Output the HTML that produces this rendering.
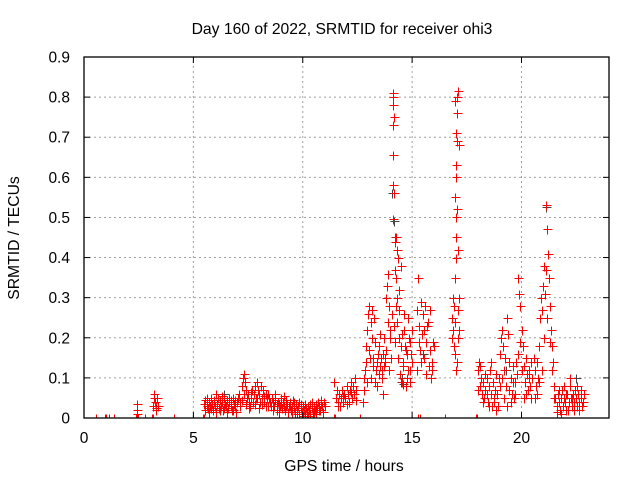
<!DOCTYPE html>
<html><head><meta charset="utf-8"><style>
html,body{margin:0;padding:0;background:#fff;}
svg{display:block;font-family:"Liberation Sans",sans-serif;}
</style></head><body>
<svg id="chart" width="640" height="480" viewBox="0 0 640 480" xmlns="http://www.w3.org/2000/svg">
<defs><clipPath id="clip"><rect x="84" y="57" width="525" height="361"/></clipPath></defs>
<rect width="640" height="480" fill="#fff"/>
<text x="342" y="34" font-size="15.7" text-anchor="middle">Day 160 of 2022, SRMTID for receiver ohi3</text>
<text x="344" y="471" font-size="15.7" text-anchor="middle">GPS time / hours</text>
<text x="19" y="238" font-size="15.7" text-anchor="middle" transform="rotate(-90 19 238)">SRMTID / TECUs</text>
<g id="grid"></g>
<g id="marks" clip-path="url(#clip)" shape-rendering="crispEdges"></g>
<g id="axes"></g>
</svg>
<script>
const xTicks=[0,5,10,15,20];
const yTicks=[0,0.1,0.2,0.3,0.4,0.5,0.6,0.7,0.8,0.9];
const yTickLabels=["0","0.1","0.2","0.3","0.4","0.5","0.6","0.7","0.8","0.9"];
const zeroTimes=[0.53,0.95,1.0,1.14,1.37,2.38,2.45,2.8,3.1,3.15,4.1,5.0,5.42,5.5,11.42,11.48,12.6,15.25,15.35,16.5,17.9,17.98];
const blackPoints=[[14.1,0.56],[14.15,0.49],[14.2,0.45],[14.5,0.09],[14.55,0.1],[14.6,0.085],[21.1,0.525],[6.4,0.06],[22.5,0.1],[15.5,0.16],[19.3,0.12]];
const redPoints=[
[2.4,.01],[2.4,.02],[2.42,.035],[3.15,.03],[3.2,.06],[3.22,.05],[3.25,.04],[3.3,.03],[3.3,.02],[3.35,.05],[3.38,.03],[3.28,.025],
[5.5,.035],[5.55,.045],[5.6,.03],[5.65,.025],[5.7,.04],[5.75,.03],[5.8,.05],[5.85,.035],[5.9,.02],[5.95,.04],[6.0,.03],[6.05,.06],[6.1,.035],[6.15,.025],[6.2,.045],[6.25,.03],[6.3,.04],[6.35,.02],[6.4,.05],[6.45,.035],[6.5,.03],[6.55,.045],[6.6,.025],[6.65,.04],[6.7,.03],[6.75,.02],[6.8,.05],[6.85,.035],[6.9,.03],[6.95,.015],[7.0,.04],
[5.52,.02],[5.62,.05],[5.72,.015],[5.82,.025],[5.92,.045],[6.02,.015],[6.12,.05],[6.22,.02],[6.32,.055],[6.42,.025],[6.52,.015],[6.62,.05],[6.72,.045],[6.82,.02],[6.92,.045],
[7.05,.05],[7.1,.06],[7.15,.04],[7.2,.08],[7.25,.1],[7.3,.11],[7.35,.09],[7.4,.07],[7.45,.05],[7.5,.06],[7.55,.04],[7.6,.03],[7.65,.05],[7.7,.07],[7.75,.06],[7.8,.08],[7.85,.05],[7.9,.09],[7.95,.07],[8.0,.06],[8.05,.04],[8.1,.08],[8.15,.05],[8.2,.07],[8.25,.04],[8.3,.06],[8.35,.05],[8.4,.03],[8.45,.05],[8.5,.04],
[7.12,.03],[7.22,.045],[7.32,.06],[7.42,.035],[7.52,.025],[7.62,.065],[7.72,.04],[7.82,.035],[7.92,.05],[8.02,.025],[8.12,.035],[8.22,.055],[8.32,.03],[8.42,.06],
[8.55,.03],[8.6,.05],[8.65,.04],[8.7,.03],[8.75,.045],[8.8,.02],[8.85,.04],[8.9,.035],[8.95,.03],[9.0,.05],[9.05,.025],[9.1,.04],[9.15,.03],[9.2,.02],[9.25,.045],[9.3,.035],[9.35,.03],[9.4,.04],[9.45,.02],[9.5,.03],[9.55,.045],[9.6,.025],[9.65,.015],[9.7,.035],[9.75,.02],[9.8,.03],[9.85,.01],[9.9,.025],[9.95,.015],[10.0,.03],[10.05,.02],[10.1,.01],[10.15,.025],[10.2,.015],[10.25,.03],[10.3,.02],[10.35,.035],[10.4,.025],[10.45,.015],[10.5,.03],[10.55,.02],[10.6,.035],[10.65,.025],[10.7,.04],[10.75,.03],[10.8,.02],[10.85,.035],[10.9,.03],[10.95,.04],[11.0,.03],
[8.62,.02],[8.72,.06],[8.82,.035],[8.92,.015],[9.02,.035],[9.12,.055],[9.22,.03],[9.32,.015],[9.42,.03],[9.52,.015],[9.62,.04],[9.72,.01],[9.82,.04],[9.92,.035],[10.02,.005],[10.12,.035],[10.22,.005],[10.32,.01],[10.42,.04],[10.52,.01],[10.62,.015],[10.72,.02],[10.82,.045],[10.92,.015],
[11.45,.09],[11.5,.05],[11.55,.07],[11.6,.04],[11.65,.06],[11.7,.03],[11.75,.05],[11.8,.07],[11.85,.04],[11.9,.06],[11.95,.05],[12.0,.08],[12.05,.06],[12.1,.04],[12.15,.07],[12.2,.09],[12.25,.05],[12.3,.08],[12.35,.06],[12.4,.1],[12.45,.07],[11.62,.03],[11.82,.055],[12.02,.035],[12.22,.065],[12.42,.045],
[12.75,.04],[12.8,.07],[12.85,.12],[12.9,.18],[12.95,.22],[13.0,.26],[13.05,.28],[13.1,.24],[13.15,.2],[13.2,.15],[13.25,.25],[13.3,.19],[13.35,.12],[13.4,.08],[13.45,.16],[13.5,.18],[13.55,.13],[13.6,.1],[13.65,.16],[13.7,.2],[13.75,.14],[13.8,.3],[13.85,.33],[13.9,.36],[13.95,.28],[14.0,.22],
[12.82,.1],[12.88,.14],[12.92,.09],[13.02,.17],[13.08,.15],[13.12,.1],[13.18,.27],[13.22,.13],[13.28,.09],[13.38,.14],[13.48,.11],[13.52,.21],[13.58,.15],[13.62,.12],[13.68,.06],[13.72,.13],[13.78,.15],[13.82,.17],[13.88,.24],[13.92,.12],[13.98,.2],[14.02,.15],
[14.12,.81],[14.13,.8],[14.14,.78],[14.15,.75],[14.13,.73],[14.14,.655],[14.12,.58],[14.15,.56],[14.14,.495],[14.2,.44],[14.25,.45],[14.3,.42],[14.35,.4],[14.2,.37],[14.25,.35],[14.3,.3],[14.1,.26],[14.15,.23],[14.2,.19],[14.25,.28],[14.3,.24],[14.35,.15],[14.4,.2],[14.45,.11],[14.5,.18],[14.55,.09],[14.6,.14],[14.65,.22],[14.7,.17],[14.75,.1],[14.8,.25],[14.85,.2],[14.9,.12],[14.95,.16],[15.0,.22],
[14.42,.32],[14.38,.27],[14.48,.38],[14.52,.21],[14.58,.13],[14.62,.26],[14.68,.18],[14.72,.08],[14.78,.16],[14.82,.12],[14.88,.09],[14.92,.19],[14.98,.14],
[15.2,.27],[15.25,.35],[15.3,.23],[15.35,.17],[15.4,.29],[15.45,.21],[15.5,.26],[15.55,.15],[15.6,.28],[15.65,.19],[15.7,.23],[15.75,.13],[15.8,.17],[15.85,.1],[15.9,.14],[15.95,.19],[16.0,.18],[15.22,.12],[15.32,.19],[15.42,.14],[15.52,.22],[15.62,.11],[15.72,.24],[15.82,.27],[15.92,.12],
[16.8,.2],[16.82,.25],[16.85,.22],[16.88,.3],[16.9,.28],[16.92,.18],[16.95,.35],[16.98,.24],[17.0,.4],[17.02,.45],[17.0,.5],[16.98,.55],[17.02,.6],[16.99,.63],[17.03,.69],[17.0,.71],[17.05,.76],[16.98,.79],[17.05,.8],[17.08,.815],[16.97,.16],[17.0,.12],[17.05,.14],[17.1,.27],[17.15,.3],[17.1,.2],[17.15,.22],[17.08,.42],[17.05,.52],[17.12,.68],
[18.0,.12],[18.05,.14],[18.1,.08],[18.15,.1],[18.2,.06],[18.25,.09],[18.3,.05],[18.35,.07],[18.4,.1],[18.45,.04],[18.5,.08],[18.55,.12],[18.6,.06],[18.65,.03],[18.7,.09],[18.75,.05],[18.8,.07],[18.85,.02],[18.9,.06],[18.95,.1],[18.02,.07],[18.12,.13],[18.22,.04],[18.32,.11],[18.42,.06],[18.52,.03],[18.62,.14],[18.72,.04],[18.82,.11],[18.92,.03],
[19.0,.16],[19.05,.2],[19.1,.22],[19.15,.18],[19.2,.12],[19.25,.15],[19.3,.08],[19.35,.25],[19.4,.21],[19.45,.14],[19.5,.1],[19.55,.06],[19.6,.13],[19.65,.05],[19.7,.09],[19.75,.14],[19.8,.11],[19.85,.35],[19.9,.31],[19.95,.28],[20.0,.22],[20.05,.18],[20.1,.13],[20.15,.09],[20.2,.15],[20.25,.11],[20.3,.07],[20.35,.12],[20.4,.08],[20.45,.14],[20.5,.1],
[19.02,.08],[19.12,.1],[19.22,.05],[19.32,.03],[19.42,.07],[19.52,.04],[19.62,.09],[19.72,.06],[19.82,.16],[19.92,.19],[20.02,.12],[20.12,.05],[20.22,.06],[20.32,.1],[20.42,.05],
[20.55,.15],[20.6,.12],[20.65,.08],[20.7,.14],[20.75,.1],[20.8,.18],[20.85,.25],[20.9,.3],[20.95,.27],[21.0,.33],[21.05,.38],[21.1,.37],[21.12,.53],[21.15,.47],[21.2,.41],[21.25,.35],[21.3,.28],[21.35,.22],[21.4,.18],[21.45,.14],[21.5,.08],[20.62,.05],[20.72,.06],[20.82,.09],[20.92,.12],[21.02,.2],[21.08,.31],[21.18,.25],[21.28,.19],[21.38,.12],[21.48,.05],
[21.55,.05],[21.6,.03],[21.65,.06],[21.7,.04],[21.75,.02],[21.8,.05],[21.85,.07],[21.9,.03],[21.95,.05],[22.0,.04],[22.05,.02],[22.1,.06],[22.15,.04],[22.2,.08],[22.25,.05],[22.3,.03],[22.35,.06],[22.4,.04],[22.45,.07],[22.5,.05],[22.55,.03],[22.6,.06],[22.65,.04],[22.7,.05],[22.75,.03],[22.8,.04],[22.85,.06],
[21.62,.015],[21.72,.07],[21.82,.01],[21.92,.08],[22.02,.06],[22.12,.02],[22.22,.1],[22.32,.05],[22.42,.02],[22.52,.08],[22.62,.02],[22.72,.07]
];
const NS="http://www.w3.org/2000/svg";
const X0=84,X1=609,Y0=418,Y1=57,XMAX=24,YMAX=0.9;
function xs(t){return X0+(X1-X0)*t/XMAX;}
function ys(v){return Y0-(Y0-Y1)*v/YMAX;}
function mk(tag,attrs,parent){const e=document.createElementNS(NS,tag);for(const k in attrs)e.setAttribute(k,attrs[k]);parent.appendChild(e);return e;}
const grid=document.getElementById('grid'),axes=document.getElementById('axes'),marks=document.getElementById('marks');
xTicks.forEach((t,i)=>{
  const x=xs(t);
  if(t>0){const g=mk('line',{x1:x,y1:Y0,x2:x,y2:Y1,stroke:'#a0a0a0','stroke-dasharray':'2,3','stroke-width':1},grid);
  
  }
  mk('line',{x1:x,y1:Y0,x2:x,y2:Y0-6,stroke:'#000'},axes);
  mk('line',{x1:x,y1:Y1,x2:x,y2:Y1+6,stroke:'#000'},axes);
  const l=mk('text',{x:x,y:Y0+25,'font-size':15.5,'text-anchor':'middle'},axes);l.textContent=String(t);
  
  
});
yTicks.forEach((v,i)=>{
  const y=ys(v);
  if(v>0&&v<YMAX){const g=mk('line',{x1:X0,y1:y,x2:X1,y2:y,stroke:'#a0a0a0','stroke-dasharray':'2,3','stroke-width':1},grid);
  
  }
  mk('line',{x1:X0,y1:y,x2:X0+6,y2:y,stroke:'#000'},axes);
  mk('line',{x1:X1,y1:y,x2:X1-6,y2:y,stroke:'#000'},axes);
  const l=mk('text',{x:X0-14,y:y+5.5,'font-size':15.5,'text-anchor':'end'},axes);l.textContent=yTickLabels[i];
  
  
});
const frame=mk('rect',{x:X0,y:Y1,width:X1-X0,height:Y0-Y1,fill:'none',stroke:'#000','stroke-width':1.3},axes);


function plus(t,v,color,name){
  const x=Math.round(xs(t))+0.5,y=Math.round(ys(v))+0.5;
  const p=mk('path',{d:`M${x-4},${y}h9M${x},${y-4}v9`,stroke:color,'stroke-width':1.2,fill:'none'},marks);
  
  
}
blackPoints.forEach(p=>plus(p[0],p[1],'#444','black-point'));
redPoints.forEach(p=>plus(p[0],p[1],'#f00','red-point'));
zeroTimes.forEach(t=>plus(t,0,'#f00','zero-point'));
</script>
</body></html>
